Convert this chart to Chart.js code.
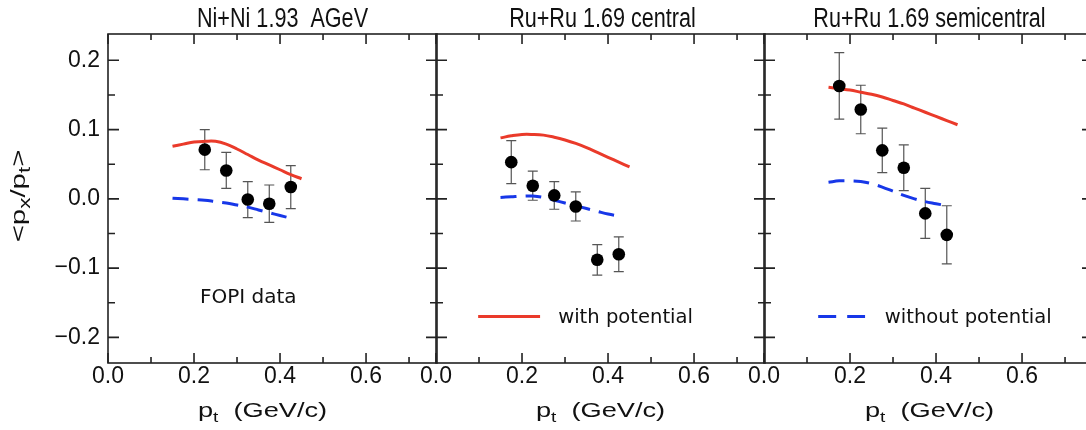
<!DOCTYPE html>
<html>
<head>
<meta charset="utf-8">
<script src="https://cdn.jsdelivr.net/npm/chart.js@4.4.1/dist/chart.umd.min.js"></script>
<style>
  html, body { margin: 0; padding: 0; background: #fff; overflow: hidden; }
  #wrap { position: relative; width: 1086px; height: 430px; overflow: hidden; }
  canvas { position: absolute; top: 0; }
</style>
</head>
<body>
<div id="wrap">
  <canvas id="p1" width="450" height="430" style="left:0px"></canvas>
  <canvas id="p2" width="380" height="430" style="left:400px"></canvas>
  <canvas id="p3" width="370" height="430" style="left:730px"></canvas>
</div>
<script>
// FOPI data points (pt in GeV/c, <px/pt>, error)
const ptNi = [0.225, 0.275, 0.325, 0.375, 0.425];
const pxNi = [0.071, 0.041, -0.001, -0.007, 0.017];
const errNi = [0.029, 0.026, 0.026, 0.027, 0.031];

const ptRuC = [0.175, 0.225, 0.275, 0.325, 0.375, 0.425];
const pxRuC = [0.053, 0.019, 0.005, -0.011, -0.088, -0.080];
const errRuC = [0.031, 0.021, 0.020, 0.021, 0.022, 0.025];

const ptRuS = [0.175, 0.225, 0.275, 0.325, 0.375, 0.425];
const pxRuS = [0.163, 0.129, 0.070, 0.045, -0.021, -0.052];
const errRuS = [0.048, 0.035, 0.032, 0.033, 0.036, 0.042];

// model curves
const ptWith = [0.15, 0.175, 0.2, 0.225, 0.25, 0.275, 0.3, 0.325, 0.35, 0.375, 0.4, 0.425, 0.45];
const ptWithout = [0.15, 0.175, 0.2, 0.225, 0.25, 0.275, 0.3, 0.325, 0.35, 0.375, 0.4, 0.425];

const withNi = [0.076, 0.079, 0.082, 0.083, 0.083, 0.079, 0.072, 0.064, 0.056, 0.049, 0.042, 0.035, 0.029];
const withoutNi = [0.001, 0.000, -0.001, -0.002, -0.004, -0.006, -0.009, -0.012, -0.016, -0.020, -0.024, -0.028];

const withRuC = [0.088, 0.091, 0.093, 0.093, 0.092, 0.089, 0.085, 0.080, 0.074, 0.067, 0.060, 0.053, 0.046];
const withoutRuC = [0.002, 0.003, 0.004, 0.004, 0.002, -0.002, -0.006, -0.010, -0.014, -0.018, -0.022, -0.025];

const withRuS = [0.161, 0.159, 0.157, 0.154, 0.151, 0.147, 0.142, 0.137, 0.131, 0.125, 0.119, 0.113, 0.107];
const withoutRuS = [0.024, 0.026, 0.026, 0.025, 0.022, 0.017, 0.011, 0.005, 0.000, -0.004, -0.007, -0.010];

const panelTitles = ["Ni+Ni 1.93  AGeV", "Ru+Ru 1.69 central", "Ru+Ru 1.69 semicentral"];

const RED = "#ea3a2a";
const BLUE = "#1737e8";

function drawParts(ctx, parts, x, y, sx, align) {
  let total = 0;
  parts.forEach(p => { ctx.font = p.font; total += ctx.measureText(p.t).width; });
  ctx.save();
  ctx.translate(x, y);
  ctx.scale(sx, 1);
  ctx.fillStyle = "#111";
  ctx.textBaseline = "alphabetic";
  ctx.textAlign = "left";
  let cx = align === "left" ? 0 : -total / 2;
  parts.forEach(p => {
    ctx.font = p.font;
    ctx.fillText(p.t, cx, p.dy || 0);
    cx += ctx.measureText(p.t).width;
  });
  ctx.restore();
}

function panelPlugin(o) {
  return {
    id: "panel",
    beforeDatasetsDraw(chart) {
      // error bars
      const ctx = chart.ctx, xs = chart.scales.x, ys = chart.scales.y;
      ctx.save();
      ctx.strokeStyle = "#555";
      ctx.lineWidth = 1.2;
      o.pt.forEach((x, i) => {
        const px = xs.getPixelForValue(x);
        const y1 = ys.getPixelForValue(o.px[i] + o.err[i]);
        const y2 = ys.getPixelForValue(o.px[i] - o.err[i]);
        ctx.beginPath();
        ctx.moveTo(px, y1); ctx.lineTo(px, y2);
        ctx.moveTo(px - 5, y1); ctx.lineTo(px + 5, y1);
        ctx.moveTo(px - 5, y2); ctx.lineTo(px + 5, y2);
        ctx.stroke();
      });
      ctx.restore();
    },
    afterDraw(chart) {
      const ctx = chart.ctx, a = chart.chartArea;
      const xs = chart.scales.x, ys = chart.scales.y;
      ctx.save();
      ctx.strokeStyle = "#222";
      ctx.lineWidth = 1.6;
      ctx.strokeRect(a.left, a.top, a.right - a.left, a.bottom - a.top);
      ctx.beginPath();
      xs.ticks.forEach(t => {
        const p = xs.getPixelForValue(t.value);
        const len = Math.round(t.value * 10) % 2 === 0 ? 10 : 6;
        ctx.moveTo(p, a.bottom); ctx.lineTo(p, a.bottom - len);
        ctx.moveTo(p, a.top); ctx.lineTo(p, a.top + len);
      });
      ys.ticks.forEach(t => {
        const p = ys.getPixelForValue(t.value);
        const len = Math.abs(Math.round(t.value * 20)) % 2 === 0 ? 11 : 7;
        ctx.moveTo(a.left, p); ctx.lineTo(a.left + len, p);
        ctx.moveTo(a.right, p); ctx.lineTo(a.right - len, p);
      });
      ctx.stroke();

      // legend sample
      if (o.legend) {
        const L = o.legend;
        ctx.strokeStyle = L.color;
        ctx.lineWidth = 3;
        ctx.setLineDash(L.dash || []);
        ctx.beginPath();
        const ly = ys.getPixelForValue(L.y);
        ctx.moveTo(xs.getPixelForValue(L.x0), ly);
        ctx.lineTo(xs.getPixelForValue(L.x1), ly);
        ctx.stroke();
        ctx.setLineDash([]);
        drawParts(ctx, [{ t: L.text, font: "19px 'DejaVu Sans'" }],
          xs.getPixelForValue(L.tx), ys.getPixelForValue(L.ty), 1.03, "left");
      }
      if (o.note) {
        drawParts(ctx, [{ t: o.note.text, font: "20px 'DejaVu Sans'" }],
          xs.getPixelForValue(o.note.x), ys.getPixelForValue(o.note.y), 1, "center");
      }
      ctx.restore();

      // panel title
      const cx = (a.left + a.right) / 2;
      drawParts(ctx, [{ t: o.title, font: "27px 'Liberation Sans'" }], cx + o.titleDx, 27, 0.8, "center");
      // x axis title
      drawParts(ctx, [
        { t: "p", font: "20px 'Liberation Sans'" },
        { t: "t", font: "14px 'Liberation Sans'", dy: 5 },
        { t: "  (GeV/c)", font: "20px 'Liberation Sans'" }
      ], cx + o.xTitleDx, 417, 1.36, "center");
      // y axis title
      if (o.showY) {
        ctx.save();
        ctx.translate(25, 196);
        ctx.rotate(-Math.PI / 2);
        drawParts(ctx, [
          { t: "<p", font: "21px 'Liberation Sans'" },
          { t: "x", font: "16px 'Liberation Sans'", dy: 5 },
          { t: "/p", font: "21px 'Liberation Sans'" },
          { t: "t", font: "16px 'Liberation Sans'", dy: 5 },
          { t: ">", font: "21px 'Liberation Sans'" }
        ], 0, 0, 1.4, "center");
        ctx.restore();
      }
    }
  };
}

function makePanel(id, o) {
  return new Chart(document.getElementById(id), {
    data: {
      datasets: [
        {
          type: "scatter",
          data: o.pt.map((x, i) => ({ x: x, y: o.px[i] })),
          pointRadius: 6.3,
          backgroundColor: "#000",
          borderWidth: 0
        },
        {
          type: "line",
          data: ptWith.map((x, i) => ({ x: x, y: o.withY[i] })),
          borderColor: RED,
          borderWidth: 3,
          pointRadius: 0,
          fill: false,
          tension: 0.4
        },
        {
          type: "line",
          data: ptWithout.map((x, i) => ({ x: x, y: o.withoutY[i] })),
          borderColor: BLUE,
          borderWidth: 3,
          borderDash: [16, 9],
          pointRadius: 0,
          fill: false,
          tension: 0.4
        }
      ]
    },
    options: {
      responsive: false,
      animation: false,
      layout: { padding: { left: o.padL, right: o.padR, top: 34, bottom: 0 } },
      scales: {
        x: {
          type: "linear",
          min: 0,
          max: 0.765,
          afterFit: s => { s.height = 67; },
          grid: { display: false, drawTicks: false },
          border: { display: false },
          ticks: {
            stepSize: 0.1,
            includeBounds: false,
            autoSkip: false,
            maxRotation: 0,
            padding: 0,
            color: "#111",
            font: { family: "'Liberation Sans'", size: 23 },
            callback: v => Math.round(v * 10) % 2 === 0 ? v.toFixed(1) : ""
          }
        },
        y: {
          type: "linear",
          min: -0.237,
          max: 0.238,
          afterFit: s => { s.width = o.showY ? 108 : 0; },
          grid: { display: false, drawTicks: false },
          border: { display: false },
          ticks: {
            display: o.showY,
            stepSize: 0.05,
            includeBounds: false,
            autoSkip: false,
            padding: 8,
            color: "#111",
            font: { family: "'Liberation Sans'", size: 23 },
            callback: v => {
              if (Math.abs(Math.round(v * 20)) % 2 !== 0) return "";
              if (Math.abs(v) < 1e-9) return "0.0";
              return (v < 0 ? "\u2212" : "") + Math.abs(v).toFixed(1);
            }
          }
        }
      },
      plugins: { legend: { display: false }, tooltip: { enabled: false }, title: { display: false } }
    },
    plugins: [panelPlugin(o)]
  });
}

makePanel("p1", {
  pt: ptNi, px: pxNi, err: errNi, withY: withNi, withoutY: withoutNi,
  padL: 0, padR: 13, showY: true, title: panelTitles[0], titleDx: 10, xTitleDx: -10,
  note: { text: "FOPI data", x: 0.326, y: -0.150 }
});
makePanel("p2", {
  pt: ptRuC, px: pxRuC, err: errRuC, withY: withRuC, withoutY: withoutRuC,
  padL: 36, padR: 15, showY: false, title: panelTitles[1], titleDx: 2, xTitleDx: 0,
  legend: { color: RED, x0: 0.098, x1: 0.242, y: -0.170, text: "with potential", tx: 0.284, ty: -0.179 }
});
makePanel("p3", {
  pt: ptRuS, px: pxRuS, err: errRuS, withY: withRuS, withoutY: withoutRuS,
  padL: 34, padR: 7, showY: false, title: panelTitles[2], titleDx: 1, xTitleDx: 1,
  legend: { color: BLUE, dash: [18, 11], x0: 0.126, x1: 0.235, y: -0.170, text: "without potential", tx: 0.281, ty: -0.179 }
});
</script>
</body>
</html>
